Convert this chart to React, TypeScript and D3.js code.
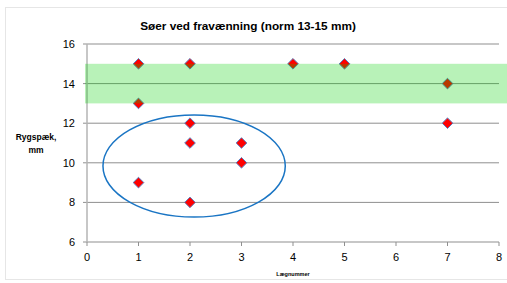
import React from 'react'
import * as d3 from 'd3'

// litter number vs backfat (mm)
const litterNo = [1, 2, 4, 5, 7, 1, 2, 7, 2, 3, 3, 1, 2]
const backfat = [15, 15, 15, 15, 14, 13, 12, 12, 11, 11, 10, 9, 8]

const xTicks = [0, 1, 2, 3, 4, 5, 6, 7, 8]
const yTicks = [6, 8, 10, 12, 14, 16]
const normBand = [13, 15]
// highlighted group: center and radii in data units
const groupCenter = [2.08, 9.84]
const groupRadius = [1.77, 2.58]

const W = 507
const H = 283
const margin = { top: 44, right: 8, bottom: 41, left: 87 }

const font = "'Liberation Sans', Arial, sans-serif"

const App = () => {
  const x = d3.scaleLinear().domain([0, 8]).range([margin.left, W - margin.right])
  const y = d3.scaleLinear().domain([6, 16]).range([H - margin.bottom, margin.top])
  const diamond = d3.symbol().type(d3.symbolDiamond2).size(72)()

  return (
    <svg width={W} height={H} style={{ position: 'absolute', left: 0, top: 0, background: '#fff' }}>
      <rect x={5.5} y={7.5} width={W} height={272} fill='none' stroke='#e6e6e6' />
      <text x={248} y={30} textAnchor='middle' fontFamily={font} fontWeight='bold' fontSize={11.8} fill='#000'>
        Søer ved fravænning (norm 13-15 mm)
      </text>

      {/* grid + y ticks */}
      {yTicks.map(t => (
        <g key={`y${t}`}>
          <line x1={x(0) - 4} x2={x(8)} y1={y(t)} y2={y(t)} stroke='#8f8f8f' strokeWidth={1} />
          <text x={x(0) - 12} y={y(t) + 4} textAnchor='end' fontFamily={font} fontSize={11} fill='#000'>{t}</text>
        </g>
      ))}
      <line x1={x(0)} x2={x(0)} y1={y(16)} y2={y(6)} stroke='#b5b5b5' strokeWidth={1.5} />
      {xTicks.map(t => (
        <g key={`x${t}`}>
          <line x1={x(t)} x2={x(t)} y1={y(6)} y2={y(6) + 4} stroke='#8f8f8f' />
          <text x={x(t)} y={y(6) + 19} textAnchor='middle' fontFamily={font} fontSize={11} fill='#000'>{t}</text>
        </g>
      ))}

      <text textAnchor='middle' fontFamily={font} fontWeight='bold' fontSize={8.5} fill='#000'>
        <tspan x={36} y={140}>Rygspæk,</tspan>
        <tspan x={36} y={153}>mm</tspan>
      </text>
      <text x={x(4)} y={276} textAnchor='middle' fontFamily={font} fontWeight='bold' fontSize={5.5} fill='#000'>Lægnummer</text>

      {litterNo.map((d, i) => (
        <path key={i} d={diamond!} transform={`translate(${x(d)},${y(backfat[i])})`}
          fill='#ff0000' stroke='#5a7fc0' strokeWidth={1} />
      ))}

      <rect x={x(0) - 2} y={y(normBand[1])} width={W - x(0) + 2} height={y(normBand[0]) - y(normBand[1])}
        fill='rgb(0,210,0)' opacity={0.28} />

      <ellipse cx={x(groupCenter[0])} cy={y(groupCenter[1])}
        rx={x(groupRadius[0]) - x(0)} ry={y(0) - y(groupRadius[1])}
        fill='none' stroke='#1a75c4' strokeWidth={1.5} />
    </svg>
  )
}

export default App
